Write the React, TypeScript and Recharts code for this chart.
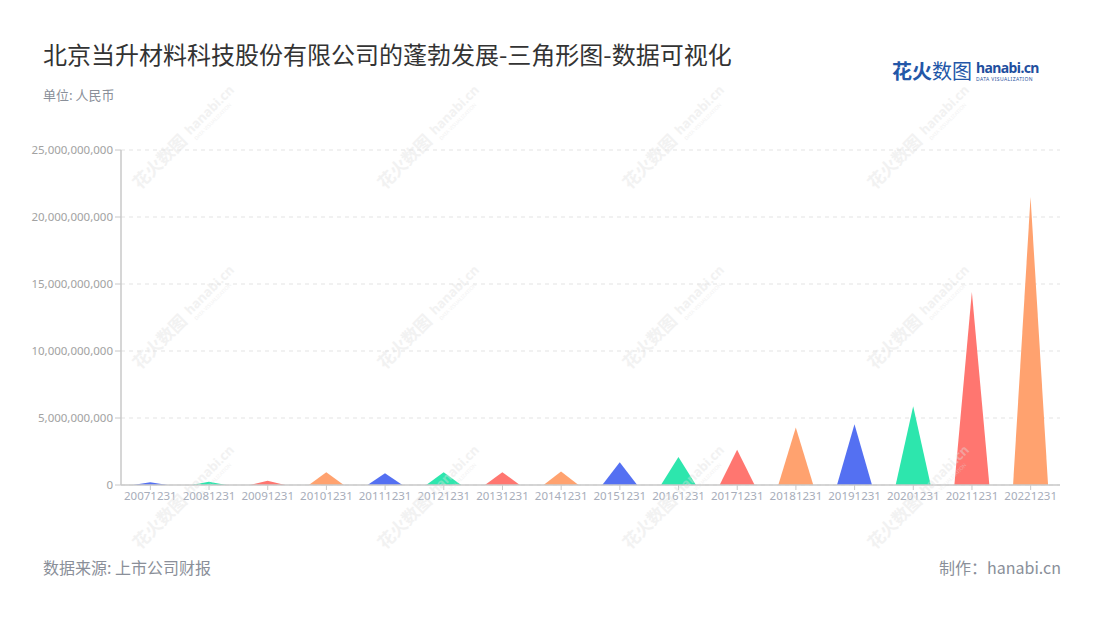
import React from "react";
import { BarChart, Bar, XAxis, YAxis, CartesianGrid, Cell } from "recharts";

const periods = [
  "20071231", "20081231", "20091231", "20101231", "20111231", "20121231", "20131231", "20141231",
  "20151231", "20161231", "20171231", "20181231", "20191231", "20201231", "20211231", "20221231",
];

// 营业收入 (元)
const revenue = [
  0.2e9, 0.25e9, 0.32e9, 0.95e9, 0.87e9, 0.95e9, 0.95e9, 1.0e9,
  1.69e9, 2.09e9, 2.63e9, 4.3e9, 4.53e9, 5.87e9, 14.4e9, 21.5e9,
];

const yTicks = [0, 5e9, 10e9, 15e9, 20e9, 25e9];

const palette = ["#5470f2", "#2de6ad", "#ff7670", "#ffa26f"];

const data = periods.map((p, i) => ({ period: p, value: revenue[i] }));

const font = '"Noto Sans", "Noto Sans CJK SC", sans-serif';

const fmt = (v: number) => v.toLocaleString("en-US");

function Triangle(props: any) {
  const { x, y, width, height, fill } = props;
  if (!height || height <= 0) return null;
  const d = `M${x},${y + height} L${x + width / 2},${y} L${x + width},${y + height} Z`;
  return <path d={d} fill={fill} />;
}

function Watermarks() {
  const cols = [140, 385, 630, 875];
  const rows = [190, 370, 550];
  const marks: React.ReactNode[] = [];
  cols.forEach((cx) =>
    rows.forEach((cy) => {
      marks.push(
        <g key={`${cx}-${cy}`} transform={`translate(${cx},${cy}) rotate(-45)`} opacity={0.4}>
          <text x={0} y={0} fontSize={17} fontWeight={700} fill="#e0e0e0" fontFamily='"Noto Sans CJK SC", sans-serif'>
            花火数图
          </text>
          <text x={74} y={-3} fontSize={13} fontWeight={700} fill="#e0e0e0" fontFamily={font}>
            hanabi.cn
          </text>
          <text x={75} y={5} fontSize={5} fill="#e0e0e0" fontFamily={font}>
            DATA VISUALIZATION
          </text>
        </g>
      );
    })
  );
  return (
    <svg width={1100} height={620} style={{ position: "absolute", left: 0, top: 0, pointerEvents: "none" }}>
      {marks}
    </svg>
  );
}

export default function App() {
  return (
    <div style={{ position: "absolute", left: 0, top: 0, width: 1100, height: 620, background: "#fff", fontFamily: font }}>
      <div style={{ position: "absolute", left: 43, top: 37, fontSize: 24, color: "#333", fontFamily: '"Noto Sans CJK SC", sans-serif', whiteSpace: "nowrap", lineHeight: "34px" }}>
        北京当升材料科技股份有限公司的蓬勃发展-三角形图-数据可视化
      </div>
      <div style={{ position: "absolute", left: 43, top: 86, fontSize: 13, color: "#8a8f99", fontFamily: '"Noto Sans CJK SC", sans-serif', lineHeight: "18px" }}>
        单位: 人民币
      </div>

      {/* logo */}
      <div style={{ position: "absolute", left: 892, top: 58, whiteSpace: "nowrap", lineHeight: "26px" }}>
        <span style={{ fontSize: 20, fontWeight: 700, color: "#2357a8", fontFamily: '"Noto Sans CJK SC", sans-serif' }}>花火</span>
        <span style={{ fontSize: 20, color: "#2357a8", fontFamily: '"Noto Sans CJK SC", sans-serif' }}>数图</span>
      </div>
      <div style={{ position: "absolute", left: 976, top: 59, whiteSpace: "nowrap" }}>
        <div style={{ fontSize: 14, fontWeight: 700, color: "#1f4f9e", lineHeight: "17px", letterSpacing: -0.6 }}>hanabi.cn</div>
        <div style={{ fontSize: 5, color: "#1f4f9e", lineHeight: "7px", letterSpacing: 0.4 }}>DATA VISUALIZATION</div>
      </div>

      <BarChart
        width={1100}
        height={620}
        data={data}
        margin={{ top: 150, right: 40, bottom: 105, left: 0 }}
        barCategoryGap="20%"
        style={{ position: "absolute", left: 0, top: 0 }}
      >
        <CartesianGrid vertical={false} stroke="#e3e3e3" strokeDasharray="4 4" />
        <XAxis
          dataKey="period"
          interval={0}
          height={30}
          tick={{ fontSize: 11.5, fill: "#a7adba", fontFamily: font }}
          tickLine={{ stroke: "#c8c8c8" }}
          tickSize={5}
          axisLine={{ stroke: "#c8c8c8", strokeWidth: 1.5 }}
        />
        <YAxis
          width={121}
          domain={[0, 25e9]}
          ticks={yTicks}
          tickFormatter={fmt}
          tick={{ fontSize: 11.5, fill: "#a2a2a2", fontFamily: font }}
          tickLine={{ stroke: "#c8c8c8" }}
          tickSize={6}
          axisLine={{ stroke: "#c8c8c8", strokeWidth: 1.5 }}
        />
        <Bar dataKey="value" shape={<Triangle />} isAnimationActive={false}>
          {data.map((_, i) => (
            <Cell key={i} fill={palette[i % palette.length]} />
          ))}
        </Bar>
      </BarChart>

      <Watermarks />

      <div style={{ position: "absolute", left: 43, top: 556, fontSize: 16, color: "#8a8f99", fontFamily: '"Noto Sans CJK SC", sans-serif', lineHeight: "22px" }}>
        数据来源: 上市公司财报
      </div>
      <div style={{ position: "absolute", right: 39, top: 556, fontSize: 16, color: "#8a8f99", fontFamily: '"Noto Sans CJK SC", sans-serif', lineHeight: "22px" }}>
        制作：hanabi.cn
      </div>
    </div>
  );
}
